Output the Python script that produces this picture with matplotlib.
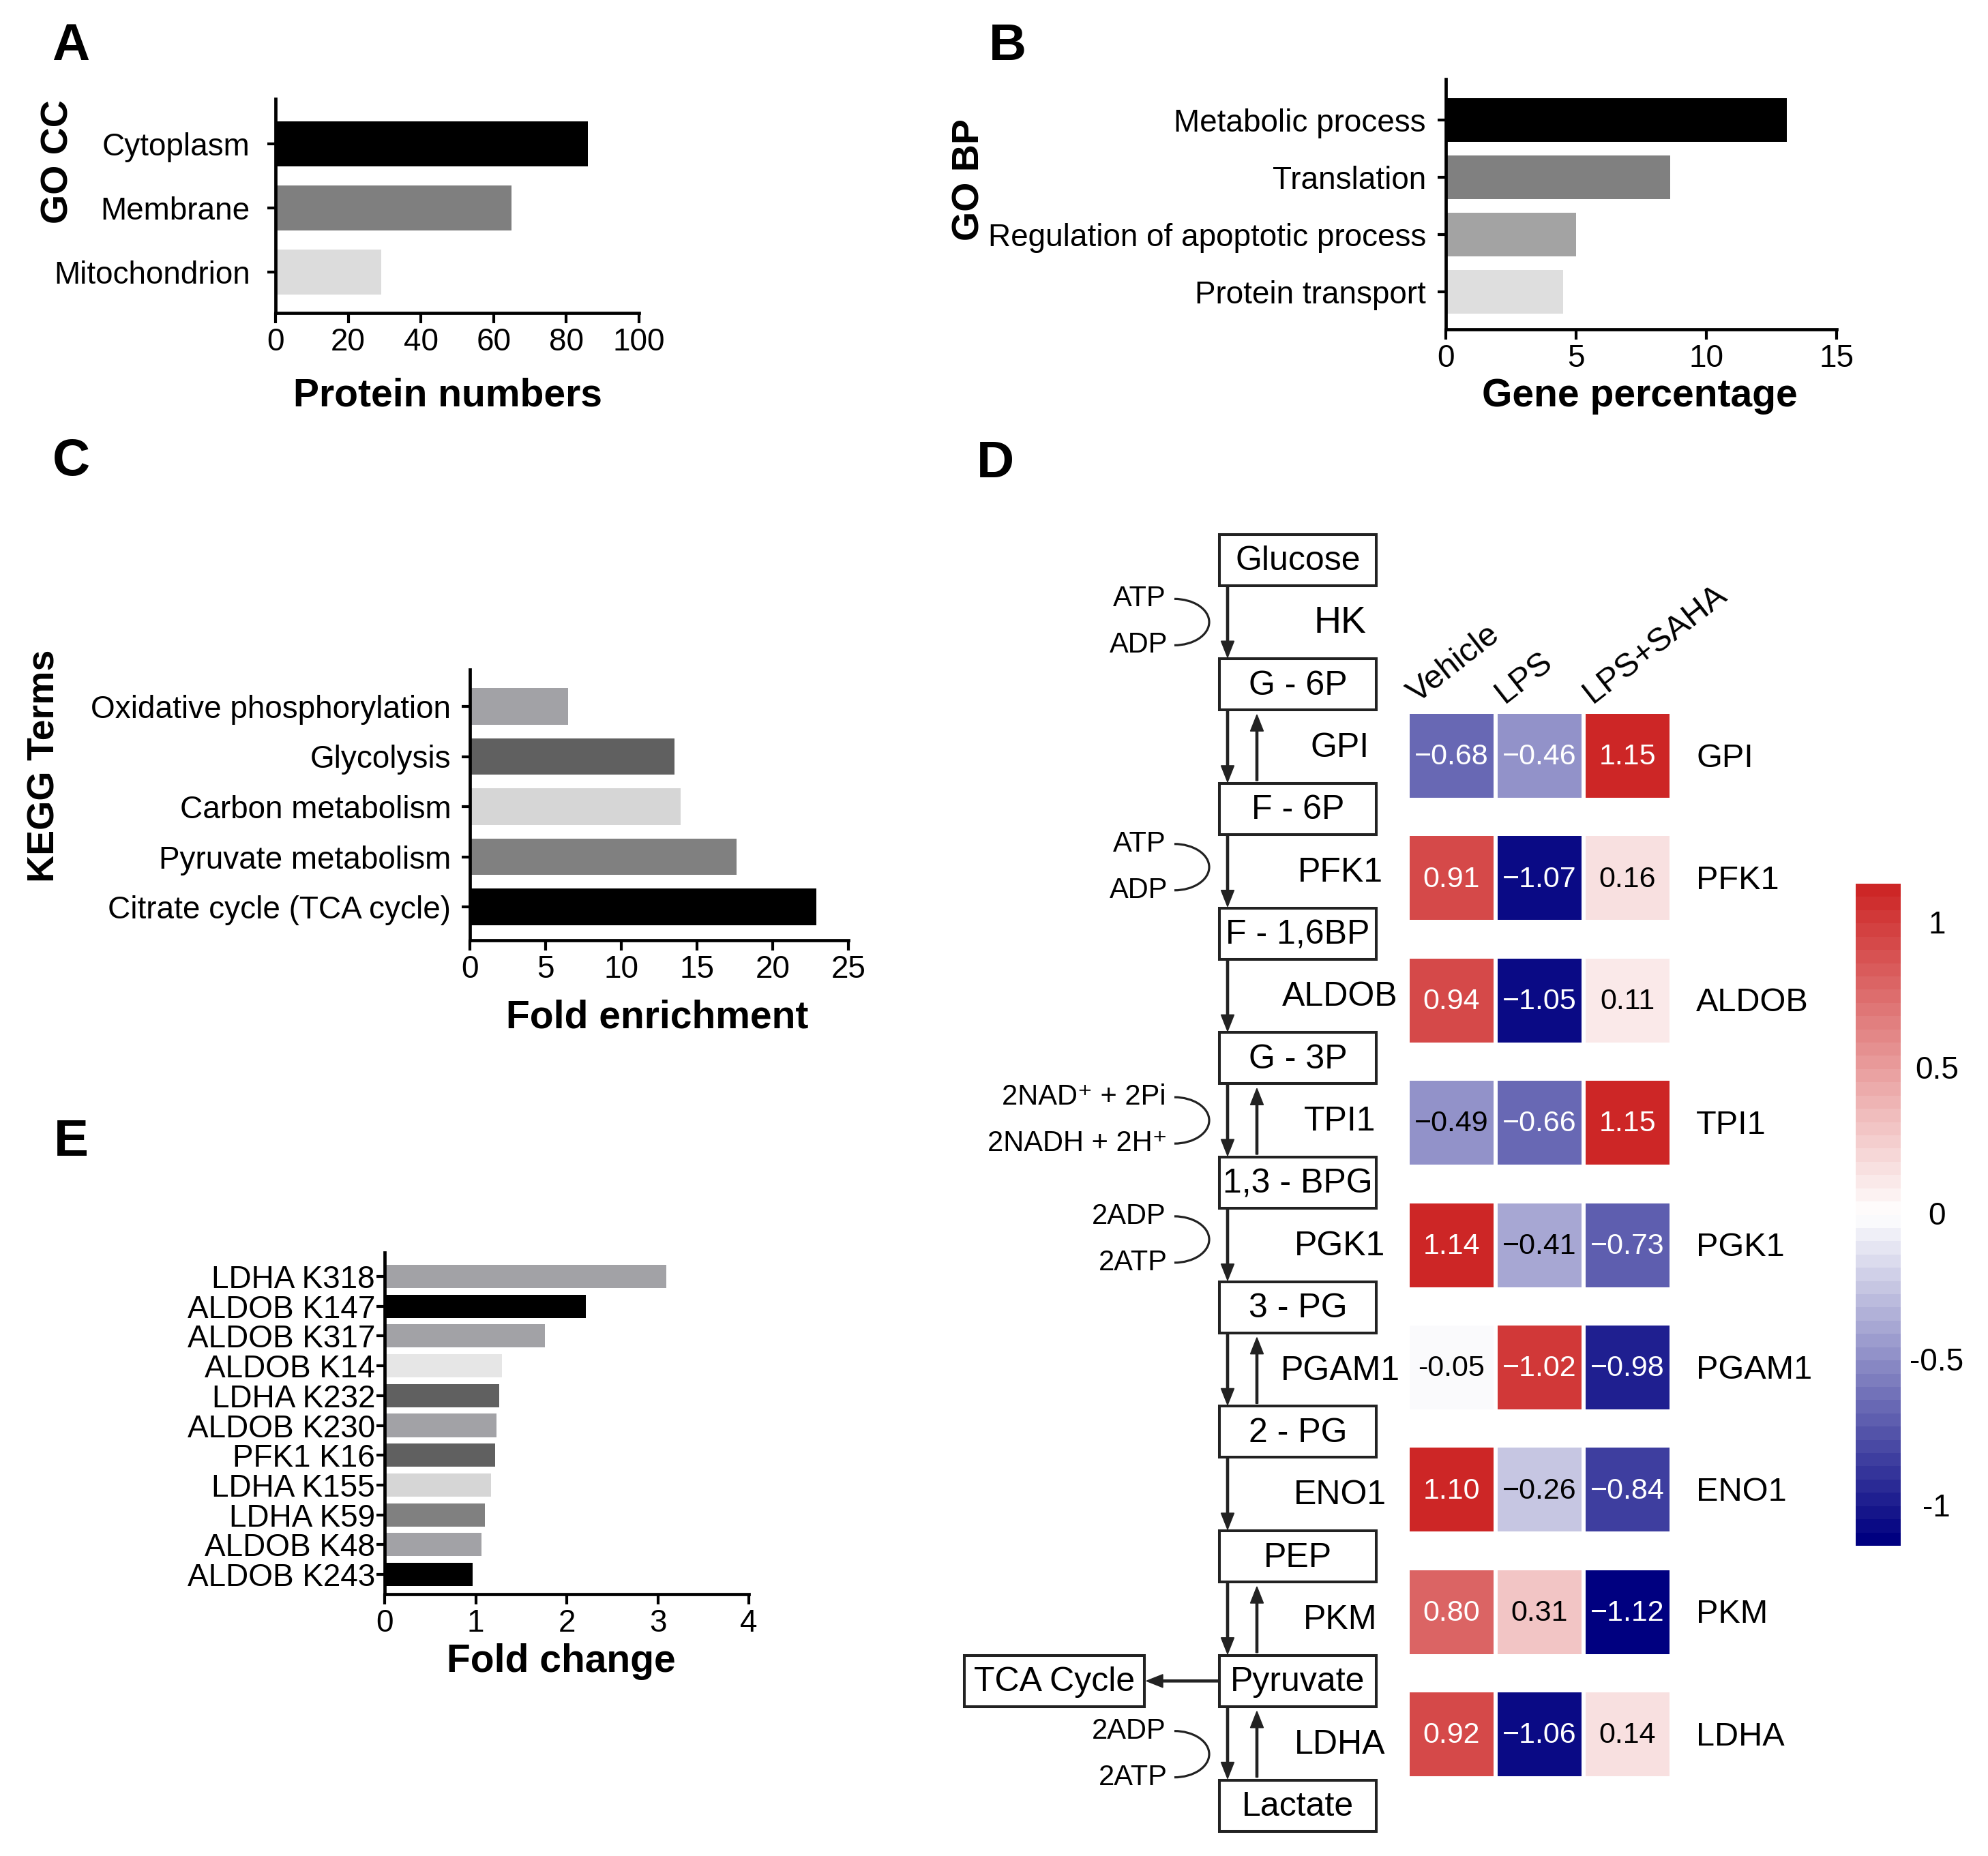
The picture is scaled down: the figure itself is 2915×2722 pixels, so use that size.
import matplotlib
matplotlib.use("Agg")
import matplotlib.pyplot as plt
import numpy as np
from matplotlib.colors import LinearSegmentedColormap, Normalize
from matplotlib.cm import ScalarMappable
from matplotlib.patches import Rectangle, Arc

W, H = 2915, 2722
DPI = 100

plt.rcParams["font.family"] = ["Liberation Sans", "DejaVu Sans"]

# ---------------- data ----------------
cc_terms = ["Cytoplasm", "Membrane", "Mitochondrion"]
cc_counts = [86, 65, 29]
cc_colors = ["#000000", "#7f7f7f", "#dcdcdc"]

bp_terms = ["Metabolic process", "Translation", "Regulation of apoptotic process", "Protein transport"]
bp_percent = [13.1, 8.6, 5.0, 4.5]
bp_colors = ["#000000", "#808080", "#a3a3a3", "#dedede"]

kegg_terms = ["Oxidative phosphorylation", "Glycolysis", "Carbon metabolism",
              "Pyruvate metabolism", "Citrate cycle (TCA cycle)"]
kegg_fold = [6.5, 13.5, 13.9, 17.6, 22.9]
kegg_colors = ["#a2a2a6", "#606060", "#d6d6d6", "#808080", "#000000"]

site_labels = ["LDHA K318", "ALDOB K147", "ALDOB K317", "ALDOB K14", "LDHA K232", "ALDOB K230",
               "PFK1 K16", "LDHA K155", "LDHA K59", "ALDOB K48", "ALDOB K243"]
site_fold = [3.09, 2.21, 1.76, 1.29, 1.26, 1.23, 1.21, 1.17, 1.10, 1.06, 0.97]
site_colors = ["#a2a2a6", "#000000", "#a2a2a6", "#e6e6e6", "#606060", "#a2a2a6",
               "#606060", "#d6d6d6", "#808080", "#a2a2a6", "#000000"]

metabolites = ["Glucose", "G - 6P", "F - 6P", "F - 1,6BP", "G - 3P", "1,3 - BPG",
               "3 - PG", "2 - PG", "PEP", "Pyruvate", "Lactate"]
enzymes = ["HK", "GPI", "PFK1", "ALDOB", "TPI1", "PGK1", "PGAM1", "ENO1", "PKM", "LDHA"]
reversible = [False, True, False, False, True, False, True, False, True, True]
cofactors = {0: ("ATP", "ADP"), 2: ("ATP", "ADP"), 4: ("2NAD⁺ + 2Pi", "2NADH + 2H⁺"),
             5: ("2ADP", "2ATP"), 9: ("2ADP", "2ATP")}

genes = ["GPI", "PFK1", "ALDOB", "TPI1", "PGK1", "PGAM1", "ENO1", "PKM", "LDHA"]
groups = ["Vehicle", "LPS", "LPS+SAHA"]
heat = np.array([
    [-0.68, -0.46, 1.15],
    [0.91, -1.07, 0.16],
    [0.94, -1.05, 0.11],
    [-0.49, -0.66, 1.15],
    [1.14, -0.41, -0.73],
    [-0.05, 1.02, -0.98],
    [1.10, -0.26, -0.84],
    [0.80, 0.31, -1.12],
    [0.92, -1.06, 0.14],
])
heat_labels = [
    ["−0.68", "−0.46", "1.15"],
    ["0.91", "−1.07", "0.16"],
    ["0.94", "−1.05", "0.11"],
    ["−0.49", "−0.66", "1.15"],
    ["1.14", "−0.41", "−0.73"],
    ["-0.05", "−1.02", "−0.98"],
    ["1.10", "−0.26", "−0.84"],
    ["0.80", "0.31", "−1.12"],
    ["0.92", "−1.06", "0.14"],
]
white_text = [
    [1, 1, 1], [1, 1, 0], [1, 1, 0], [0, 1, 1], [1, 0, 1],
    [0, 1, 1], [1, 0, 1], [1, 0, 1], [1, 1, 0],
]
cbar_ticks = [-1, -0.5, 0, 0.5, 1]
cbar_ticklabels = ["-1", "-0.5", "0", "0.5", "1"]


fig = plt.figure(figsize=(W / DPI, H / DPI), dpi=DPI)


def px_axes(x0, y0, x1, y1, **kw):
    return fig.add_axes([x0 / W, 1 - y1 / H, (x1 - x0) / W, (y1 - y0) / H], **kw)


def fx(px):
    return px / W


def fy(py):
    return 1 - py / H


# overlay axes in pixel coordinates for the pathway diagram and panel letters
dax = px_axes(0, 0, W, H)
dax.set_xlim(0, W)
dax.set_ylim(H, 0)
dax.axis("off")


def hbar_panel(rect, labels, values, colors, first_px, pitch_px, bar_h,
               xmax, xstep, ypad, xlabel, xlab_pos, ylabel=None, ylab_pos=None):
    x0, y0, x1, y1 = rect
    ax = px_axes(*rect)
    pos = np.arange(len(labels))
    ax.barh(pos, values, height=bar_h, color=colors, zorder=1)
    ax.set_yticks(pos, labels)
    ax.set_ylim((y1 - first_px) / pitch_px, (y0 - first_px) / pitch_px)
    ax.set_xlim(0, xmax)
    ax.set_xticks(np.arange(0, xmax + xstep / 2, xstep))
    for s in ("top", "right"):
        ax.spines[s].set_visible(False)
    for s in ("left", "bottom"):
        ax.spines[s].set_linewidth(3.4)
        ax.spines[s].set_zorder(3)
    ax.tick_params(axis="x", length=11, width=3, pad=4, labelsize=33)
    ax.tick_params(axis="y", length=9, width=3, pad=ypad, labelsize=33)
    ax.set_facecolor("none")
    ax.set_xlabel(xlabel, fontsize=41, fontweight="bold", va="baseline")
    ax.xaxis.set_label_coords(fx(xlab_pos[0]), fy(xlab_pos[1]), transform=fig.transFigure)
    if ylabel:
        ax.set_ylabel(ylabel, fontsize=40, fontweight="bold", va="baseline")
        ax.yaxis.set_label_coords(fx(ylab_pos[0]), fy(ylab_pos[1]), transform=fig.transFigure)
    return ax


# A
hbar_panel((404, 145, 937, 459), cc_terms, cc_counts, cc_colors, 211, 94, 0.7,
           100, 20, 18, "Protein numbers", (656, 596), "GO CC", (100, 237))
# B
hbar_panel((2120, 116, 2693, 483), bp_terms, bp_percent, bp_colors, 176, 84, 0.76,
           15, 5, 12, "Gene percentage", (2404, 596), "GO BP", (1436, 264))
# C
hbar_panel((689, 982, 1244, 1379), kegg_terms, kegg_fold, kegg_colors, 1036, 73.5, 0.73,
           25, 5, 11, "Fold enrichment", (964, 1507), "KEGG Terms", (79, 1123))
# E
hbar_panel((564, 1837, 1098, 2338), site_labels, site_fold, site_colors, 1872, 43.7, 0.78,
           4, 1, 1, "Fold change", (823, 2452))

# panel letters
for letter, (lx, ly) in zip("ABCDE", [(76, 88), (1450, 88), (77, 697), (1432, 700), (79, 1695)]):
    dax.text(lx, ly, letter, fontsize=55, fontweight="bold", ha="left", va="baseline")

# ---------------- D: pathway ----------------
box_x0, box_x1 = 1788, 2018
box_h = 75
met_y0, met_pitch = 821, 182.7
down_x, up_x = 1800, 1843
ink = "#222222"
cof_shift = {2: -6, 5: -8, 9: 16}   # small vertical nudges of the cofactor pairs

met_y = [met_y0 + i * met_pitch for i in range(len(metabolites))]
for name, cy in zip(metabolites, met_y):
    dax.add_patch(Rectangle((box_x0, cy - box_h / 2), box_x1 - box_x0, box_h,
                            fill=False, lw=2.9, ec=ink))
    dax.text((box_x0 + box_x1) / 2, cy + 2, name, fontsize=36, ha="center", va="center")

for k, (enz, rev) in enumerate(zip(enzymes, reversible)):
    top = met_y[k] + box_h / 2
    bot = met_y[k + 1] - box_h / 2
    mid = (top + bot) / 2
    dax.arrow(down_x, top, 0, bot - top - 2, width=3.2, head_width=19, head_length=24,
              length_includes_head=True, color=ink)
    if rev:
        dax.arrow(up_x, bot - 4, 0, -(bot - top - 11), width=3.2, head_width=19,
                  head_length=24, length_includes_head=True, color=ink)
    dax.text(1965, mid + 2, enz, fontsize=40 if enz == "HK" else 36, ha="center", va="center")
    if k in cofactors:
        c_in, c_out = cofactors[k]
        cm = mid + cof_shift.get(k, 0)
        dax.text(1710, cm - 34, c_in, fontsize=30, ha="right", va="center")
        dax.text(1712, cm + 34, c_out, fontsize=30, ha="right", va="center")
        dax.add_patch(Arc((1722, cm), 102, 68, theta1=-90, theta2=90, lw=2.3, color=ink))

# TCA cycle branch
pyr_y = met_y[metabolites.index("Pyruvate")]
dax.add_patch(Rectangle((1414, pyr_y - box_h / 2), 264, box_h, fill=False, lw=2.9, ec=ink))
dax.text((1414 + 1678) / 2, pyr_y + 2, "TCA Cycle", fontsize=36, ha="center", va="center")
dax.arrow(box_x0, pyr_y, -(box_x0 - 1681), 0, width=3.2, head_width=19, head_length=24,
          length_includes_head=True, color=ink)

# ---------------- D: heatmap ----------------
cmap = LinearSegmentedColormap.from_list("nwf", ["navy", "white", "#CD2626"], N=50)
norm = Normalize(vmin=-1.14, vmax=1.13)

col_pitch, row_pitch = 129, 179.4
hm_x0, hm_y0 = 2067, 1047
nrow, ncol = heat.shape
hax = px_axes(hm_x0, hm_y0, hm_x0 + ncol * col_pitch, hm_y0 + nrow * row_pitch)
hax.set_xlim(0, ncol)
hax.set_ylim(nrow, 0)
hax.axis("off")
cw, ch = 123 / col_pitch, 123 / row_pitch
for i in range(nrow):
    for j in range(ncol):
        hax.add_patch(Rectangle((j, i), cw, ch, color=cmap(norm(heat[i, j])), lw=0))
        hax.text(j + cw / 2, i + ch / 2 + 0.01, heat_labels[i][j], fontsize=31,
                 ha="center", va="center", color="white" if white_text[i][j] else "black")
    hax.text(3.256, i + ch / 2 + 0.02, genes[i], fontsize=35, ha="left", va="center",
             clip_on=False)
for j, g in enumerate(groups):
    hax.text(j + 0.08, -0.084, g, fontsize=35, rotation=38, rotation_mode="anchor",
             ha="left", va="baseline", clip_on=False)

cax = px_axes(2721, 1296, 2787, 2267)
cbar = fig.colorbar(ScalarMappable(norm=norm, cmap=cmap), cax=cax)
cbar.outline.set_visible(False)
cbar.set_ticks(cbar_ticks, labels=cbar_ticklabels)
cax.tick_params(length=0, pad=38, labelsize=33)
for lab in cax.get_yticklabels():
    lab.set_ha("center")

fig.savefig("out.png", dpi=DPI, facecolor="white")
